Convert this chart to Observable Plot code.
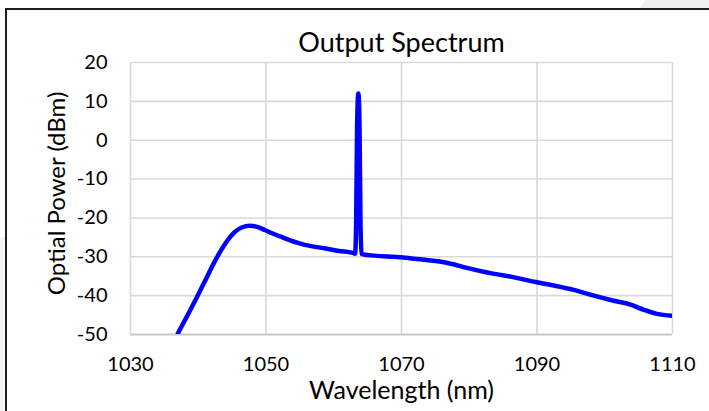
<!DOCTYPE html>
<html>
<head>
<meta charset="utf-8">
<script src="https://cdn.jsdelivr.net/npm/d3@7"></script>
<script src="https://cdn.jsdelivr.net/npm/@observablehq/plot@0.6"></script>
<style>
  html, body { margin: 0; padding: 0; background: #fff; }
  #wrap { position: relative; width: 709px; height: 411px; overflow: hidden; background: #fff; }
  #greyTop { position: absolute; left: 0; top: 0; width: 709px; height: 9px; background: #f0f0f0;
             clip-path: polygon(646px 0, 709px 0, 709px 9px, 639px 9px); }
  #greyLeft { position: absolute; left: 0; top: 237px; width: 5px; height: 174px; background: #f2f2f2; }
  #frame { position: absolute; left: 5px; top: 8px; width: 720px; height: 420px;
           border-left: 2px solid #1e1e1e; border-top: 2px solid #1e1e1e; background: #fff; }
  #chart { position: absolute; left: 0; top: 0; }
</style>
</head>
<body>
<div id="wrap">
  <div id="greyTop"></div>
  <div id="greyLeft"></div>
  <div id="frame"></div>
  <div id="chart"></div>
</div>
<script>
const wavelength = [1036.9, 1038.5, 1039.8, 1041.2, 1042.5, 1044.0, 1045.4, 1046.5, 1047.6, 1048.7, 1049.8, 1051.0, 1052.3, 1054.7, 1056.5, 1058.6, 1060.8, 1062.8, 1063.15, 1063.3, 1063.45, 1063.63, 1063.8, 1063.95, 1064.1, 1064.4, 1066.0, 1069.7, 1073.0, 1076.3, 1077.8, 1079.5, 1081.2, 1083.7, 1086.1, 1089.8, 1092.5, 1095.4, 1098.4, 1101.3, 1103.8, 1105.7, 1107.7, 1110.0];
const power = [-50, -44.8, -40.4, -35.5, -31.0, -26.6, -23.6, -22.4, -22.0, -22.3, -23.1, -24.0, -24.9, -26.4, -27.2, -27.8, -28.5, -29.0, -29.2, -22, 4, 12, 4, -22, -29.2, -29.4, -29.7, -30.1, -30.7, -31.4, -32.0, -32.8, -33.5, -34.4, -35.1, -36.5, -37.4, -38.5, -40.0, -41.3, -42.3, -43.6, -44.7, -45.2];
const xTicks = [1030, 1050, 1070, 1090, 1110];
const yTicks = [20, 10, 0, -10, -20, -30, -40, -50];
const title = "Output Spectrum";
const xLabel = "Wavelength (nm)";
const yLabel = "Optial Power (dBm)";

const data = wavelength.map((w, i) => ({w, p: power[i]}));
const font = "Lato, 'Open Sans', sans-serif";
const fmt = d => String(d);

const chart = Plot.plot({
  width: 709,
  height: 411,
  marginLeft: 130,
  marginRight: 37,
  marginTop: 62,
  marginBottom: 77,
  style: {fontFamily: font, background: "transparent", color: "#000"},
  x: {domain: [1030, 1110], ticks: xTicks, tickFormat: fmt},
  y: {domain: [-50, 20], ticks: yTicks, tickFormat: fmt},
  marks: [
    Plot.ruleX(xTicks, {stroke: "#d9d9d9", strokeWidth: 1.6}),
    Plot.ruleY(yTicks.filter(d => d !== -50), {stroke: "#d9d9d9", strokeWidth: 1.6}),
    Plot.ruleY([-50], {stroke: "#c8c8c8", strokeWidth: 1.8}),
    Plot.axisX({ticks: xTicks, tickSize: 0, tickPadding: 22, fontSize: 20, label: null, tickFormat: fmt}),
    Plot.axisY({ticks: yTicks, tickSize: 0, tickPadding: 23, fontSize: 20, label: null, tickFormat: fmt}),
    Plot.line(data, {x: "w", y: "p", stroke: "#0000ff", strokeWidth: 4.5, curve: "monotone-x", clip: true, strokeLinejoin: "round", strokeLinecap: "butt"}),
    Plot.text([title], {frameAnchor: "top", dy: -19, fontSize: 27, lineAnchor: "middle", textAnchor: "middle", fill: "#000"}),
    Plot.text([xLabel], {frameAnchor: "bottom", dy: 56, fontSize: 25, lineAnchor: "middle", textAnchor: "middle", fill: "#000"}),
    Plot.text([yLabel], {frameAnchor: "left", dx: -73, dy: -5, rotate: -90, fontSize: 24, lineAnchor: "middle", textAnchor: "middle", fill: "#000"})
  ]
});
document.getElementById("chart").appendChild(chart);
</script>
</body>
</html>
